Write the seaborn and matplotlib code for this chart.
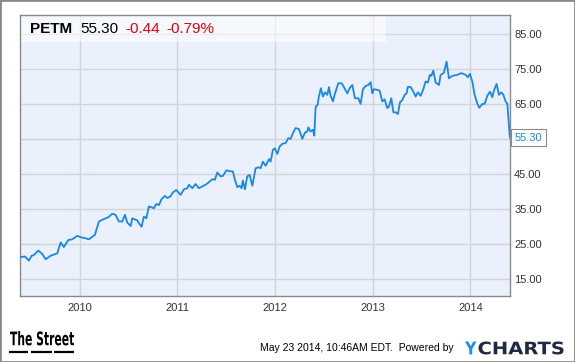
import numpy as np
import pandas as pd
import matplotlib.pyplot as plt
import seaborn as sns
from matplotlib.patches import Rectangle, PathPatch
from matplotlib.lines import Line2D
from matplotlib.textpath import TextPath
from matplotlib.font_manager import FontProperties
from matplotlib.transforms import Affine2D

# PETM price, 5 year chart (x = fractional year)
year_frac = [
    2009.396, 2009.440, 2009.481, 2009.509, 2009.532, 2009.577, 2009.618, 2009.652,
    2009.703, 2009.772, 2009.806, 2009.839, 2009.884, 2009.925, 2009.976, 2010.010,
    2010.061, 2010.095, 2010.157, 2010.198, 2010.249, 2010.294, 2010.335, 2010.368,
    2010.402, 2010.437, 2010.464, 2010.488, 2010.522, 2010.539, 2010.591, 2010.607,
    2010.635, 2010.658, 2010.683, 2010.709, 2010.760, 2010.785, 2010.812, 2010.839,
    2010.873, 2010.898, 2010.931, 2010.955, 2010.990, 2011.034, 2011.068, 2011.102,
    2011.119, 2011.154, 2011.187, 2011.221, 2011.256, 2011.290, 2011.323, 2011.341,
    2011.364, 2011.385, 2011.409, 2011.443, 2011.467, 2011.502, 2011.546, 2011.569,
    2011.590, 2011.614, 2011.638, 2011.658, 2011.671, 2011.692, 2011.716, 2011.740,
    2011.768, 2011.801, 2011.835, 2011.853, 2011.876, 2011.904, 2011.938, 2011.955,
    2011.979, 2011.999, 2012.024, 2012.047, 2012.075, 2012.108, 2012.136, 2012.160,
    2012.183, 2012.211, 2012.245, 2012.279, 2012.306, 2012.331, 2012.341, 2012.364,
    2012.388, 2012.402, 2012.416, 2012.436, 2012.449, 2012.470, 2012.490, 2012.511,
    2012.535, 2012.552, 2012.569, 2012.593, 2012.613, 2012.648, 2012.682, 2012.705,
    2012.740, 2012.764, 2012.791, 2012.818, 2012.853, 2012.876, 2012.900, 2012.927,
    2012.955, 2012.978, 2012.996, 2013.012, 2013.047, 2013.071, 2013.098, 2013.122,
    2013.149, 2013.166, 2013.190, 2013.211, 2013.234, 2013.258, 2013.278, 2013.303,
    2013.327, 2013.347, 2013.360, 2013.388, 2013.416, 2013.439, 2013.463, 2013.490,
    2013.518, 2013.541, 2013.565, 2013.585, 2013.600, 2013.620, 2013.644, 2013.678,
    2013.695, 2013.729, 2013.756, 2013.780, 2013.815, 2013.866, 2013.907, 2013.951,
    2013.974, 2013.995, 2014.019, 2014.043, 2014.071, 2014.091, 2014.122, 2014.145,
    2014.173, 2014.200, 2014.224, 2014.241, 2014.268, 2014.292, 2014.316, 2014.337,
    2014.360, 2014.378, 2014.404,
]
price = [
    21.2, 21.4, 20.2, 21.6, 21.8, 23.1, 22.1, 20.6,
    21.6, 22.3, 25.4, 24.1, 26.1, 26.3, 27.3, 26.9,
    26.6, 26.3, 27.6, 31.4, 32.1, 32.6, 33.6, 33.3,
    31.4, 31.4, 33.3, 31.1, 30.1, 32.3, 31.7, 30.9,
    29.9, 32.8, 32.3, 35.7, 35.2, 36.4, 36.1, 37.8,
    38.7, 38.1, 38.6, 39.7, 40.4, 39.0, 40.6, 40.9,
    41.9, 40.9, 42.1, 40.9, 41.4, 41.9, 42.6, 43.1,
    43.5, 43.3, 45.4, 44.3, 44.4, 46.0, 45.7, 45.7,
    43.3, 41.2, 41.6, 40.9, 43.1, 40.6, 44.3, 44.7,
    41.6, 46.6, 46.9, 46.6, 48.5, 47.3, 49.2, 48.5,
    51.9, 52.3, 50.7, 52.8, 53.6, 53.8, 55.2, 55.0,
    56.6, 58.1, 57.8, 55.0, 56.8, 57.1, 58.3, 57.1,
    57.6, 55.9, 64.2, 64.7, 67.1, 69.5, 67.1, 68.3,
    67.6, 69.8, 67.3, 65.7, 67.9, 70.9, 70.9, 69.8,
    68.0, 69.5, 70.4, 66.6, 66.6, 65.0, 69.2, 70.1,
    70.4, 71.2, 68.0, 69.2, 69.0, 68.8, 65.7, 66.3,
    63.8, 64.2, 66.6, 62.6, 62.6, 62.1, 65.4, 66.1,
    67.6, 68.0, 69.9, 69.8, 68.5, 67.1, 68.3, 67.3,
    69.2, 71.4, 71.1, 73.3, 73.0, 74.5, 71.1, 70.4,
    73.3, 73.9, 77.1, 72.3, 73.0, 73.3, 73.8, 73.3,
    72.6, 73.6, 71.4, 67.6, 65.0, 63.9, 65.0, 65.0,
    67.3, 68.5, 66.9, 68.8, 70.7, 67.6, 68.3, 67.6,
    65.7, 65.0, 55.3,
]
year_ticks = [2010, 2011, 2012, 2013, 2014]
price_ticks = [15, 25, 35, 45, 55, 65, 75, 85]

ticker = "PETM"
last_price = "55.30"
change = "-0.44"
change_pct = "-0.79%"
stamp = "May 23 2014, 10:46AM EDT.  Powered by"

LINE_BLUE = '#1a87e6'
BG_BLUE = '#eaf1fc'
GRID = '#d4d4d4'
TEXT = '#333333'
W, H = 575, 362

sns.set_theme(style="white")
plt.rcParams['font.family'] = ['Liberation Sans', 'DejaVu Sans']

df = pd.DataFrame({'year': year_frac, 'price': price})

fig = plt.figure(figsize=(W / 100, H / 100), dpi=100)
ax = fig.add_axes([20 / W, 66 / H, 490 / W, 281 / H])
ax.set_facecolor(BG_BLUE)

sns.lineplot(data=df, x='year', y='price', ax=ax, color=LINE_BLUE,
             linewidth=1.3, estimator=None, zorder=3)

ax.set_xlim(2009.39, 2014.405)
ax.set_ylim(10.1, 90.4)
ax.set_xticks(year_ticks)
ax.set_xticklabels([str(y) for y in year_ticks])
ax.set_yticks(price_ticks)
ax.set_yticklabels(['' if p == 55 else f"{p:.2f}" for p in price_ticks])
ax.yaxis.tick_right()
ax.tick_params(axis='both', length=0, labelsize=8, colors=TEXT)
ax.tick_params(axis='y', pad=3)
ax.tick_params(axis='x', pad=5)
ax.set_xlabel('')
ax.set_ylabel('')
ax.grid(True, color=GRID, linewidth=1)
ax.set_axisbelow(True)
for s in ax.spines.values():
    s.set_color('#8a8a8a')
    s.set_linewidth(1)

# header band with quote
ax.add_patch(Rectangle((0, 1 - 27 / 281), 366 / 490, 27 / 281, transform=ax.transAxes,
                       facecolor='white', alpha=0.55, edgecolor='none', zorder=2))
hy = 1 - 29 / H
fig.text(30 / W, hy, ticker, fontsize=11, fontweight='bold', color='black', va='center')
fig.text(80 / W, hy, last_price, fontsize=11, color='black', va='center')
fig.text(125 / W, hy, change, fontsize=11, color='#e8000b', va='center')
fig.text(166 / W, hy, change_pct, fontsize=11, color='#e8000b', va='center')

# last value marker
ax.annotate(last_price, xy=(year_frac[-1], price[-1]), xytext=(3.5, 0),
            textcoords='offset points', va='center', ha='left', fontsize=8,
            color=LINE_BLUE, annotation_clip=False,
            bbox=dict(boxstyle='square,pad=0.3', fc='white', ec='#8a8a8a', lw=0.8))


def fitted_text(s, x, y, w, h, color):
    # bold text path squeezed into a w x h pixel box, bottom-left at (x, y from top)
    tp = TextPath((0, 0), s, size=10,
                  prop=FontProperties(family='DejaVu Sans', weight='bold'))
    ext = tp.get_extents()
    tf = (Affine2D().translate(-ext.x0, -ext.y0)
          .scale(w / ext.width, h / ext.height)
          .translate(x, H - y))
    fig.add_artist(PathPatch(tp, transform=tf, facecolor=color, edgecolor='none'))


# footer
fitted_text("The Street", 10, 345.5, 64, 14.5, 'black')
for x0, x1 in [(9, 28), (31, 52), (54, 74)]:
    fig.add_artist(Line2D([x0 / W, x1 / W], [1 - 352 / H] * 2, color='black',
                          linewidth=1.6, solid_capstyle='butt'))

fig.text(260 / W, 1 - 348 / H, stamp, fontsize=7.5, color='black', va='center')
fitted_text("Y", 465, 354.5, 11.5, 13, '#1a8cff')
fitted_text("CHARTS", 478.5, 354.5, 85, 13, '#1c2a44')

# outer frame
fig.add_artist(Rectangle((0, 0), 1, 1, transform=fig.transFigure, fill=False,
                         edgecolor='#8a8a8a', linewidth=2))

fig.savefig('out.png', dpi=100)
